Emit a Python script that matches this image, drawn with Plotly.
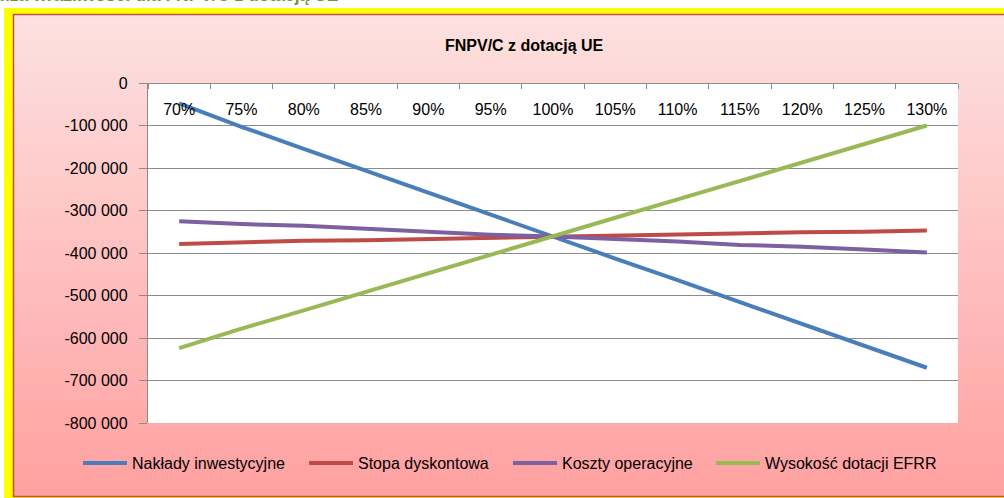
import plotly.graph_objects as go

# Sensitivity scenarios (share of the base value)
categories = ["70%", "75%", "80%", "85%", "90%", "95%", "100%",
              "105%", "110%", "115%", "120%", "125%", "130%"]

# FNPV/C (with EU grant) for each varied parameter
naklady_inwestycyjne = [-48000, -103000, -155000, -207000, -258000, -310000, -361000,
                        -413000, -464000, -516000, -567000, -619000, -670000]
stopa_dyskontowa = [-379000, -375000, -371000, -370000, -367000, -364000, -361000,
                    -359000, -357000, -354000, -351000, -350000, -347000]
koszty_operacyjne = [-325000, -332000, -336000, -343000, -351000, -357000, -361000,
                     -366000, -373000, -381000, -385000, -392000, -399000]
wysokosc_dotacji = [-624000, -578000, -535000, -491000, -448000, -404000, -361000,
                    -317000, -274000, -231000, -187000, -144000, -100000]

y_tick_values = [0, -100000, -200000, -300000, -400000, -500000, -600000, -700000, -800000]
y_tick_labels = ["0", "-100 000", "-200 000", "-300 000", "-400 000",
                 "-500 000", "-600 000", "-700 000", "-800 000"]

series_names = ["Nakłady inwestycyjne", "Stopa dyskontowa",
                "Koszty operacyjne", "Wysokość dotacji EFRR"]
series_values = [naklady_inwestycyjne, stopa_dyskontowa, koszty_operacyjne, wysokosc_dotacji]
series_colors = ["#4A7EBB", "#BE4B48", "#7D60A0", "#98B954"]

W, H = 1004, 498
PLOT_L, PLOT_R, PLOT_T, PLOT_B = 148, 958, 83, 423
FONT = "Liberation Sans, Arial, sans-serif"


def px_x(px):
    return (px - PLOT_L) / (PLOT_R - PLOT_L)


def px_y(py):
    return (PLOT_B - py) / (PLOT_B - PLOT_T)


fig = go.Figure()

legend_ids = ["legend", "legend2", "legend3", "legend4"]
legend_left = [78, 304, 508, 711]

for name, vals, color, lid in zip(series_names, series_values, series_colors, legend_ids):
    fig.add_trace(go.Scatter(
        x=categories, y=vals, name=name, mode="lines",
        line=dict(color=color, width=4),
        legend=lid,
    ))

# Frame: yellow outer border, pink gradient chart area, white plot area
shapes = [dict(type="rect", xref="paper", yref="paper", layer="below",
               x0=px_x(4), x1=px_x(1010), y0=px_y(8), y1=px_y(505),
               fillcolor="#FFFF00", line=dict(width=0))]

top_rgb = (253, 225, 225)
bot_rgb = (255, 160, 160)
y_start, y_end = 14, 497
n_strips = 60
for i in range(n_strips):
    t = (i + 0.5) / n_strips
    r = round(top_rgb[0] + (bot_rgb[0] - top_rgb[0]) * t)
    g = round(top_rgb[1] + (bot_rgb[1] - top_rgb[1]) * t)
    b = round(top_rgb[2] + (bot_rgb[2] - top_rgb[2]) * t)
    ya = y_start + (y_end - y_start) * i / n_strips
    yb = y_start + (y_end - y_start) * (i + 1) / n_strips + 0.6
    shapes.append(dict(type="rect", xref="paper", yref="paper", layer="below",
                       x0=px_x(13), x1=px_x(1010), y0=px_y(min(yb, y_end)), y1=px_y(ya),
                       fillcolor=f"rgb({r},{g},{b})", line=dict(width=0)))

shapes.append(dict(type="rect", xref="paper", yref="paper", layer="below",
                   x0=px_x(13.5), x1=px_x(1010), y0=px_y(496.5), y1=px_y(14.5),
                   fillcolor="rgba(0,0,0,0)", line=dict(color="#C0504D", width=1.5)))
shapes.append(dict(type="rect", xref="paper", yref="paper", layer="below",
                   x0=0, x1=1, y0=0, y1=1,
                   fillcolor="#FFFFFF", line=dict(width=0)))

annotations = [
    dict(text="<b>FNPV/C z dotacją UE</b>", xref="paper", yref="paper",
         x=px_x(524), y=px_y(46), xanchor="center", yanchor="middle",
         showarrow=False, font=dict(family=FONT, size=16, color="#000000")),
    dict(text="<b>Analiza wrażliwości dla FNPV/C z dotacją UE</b>", xref="paper", yref="paper",
         x=px_x(340), y=px_y(7), xanchor="right", yanchor="bottom",
         showarrow=False, font=dict(family=FONT, size=17.5, color="#76923C")),
]

layout_legends = {}
for lid, left in zip(legend_ids, legend_left):
    layout_legends[lid] = dict(
        x=px_x(left), y=px_y(463), xanchor="left", yanchor="middle",
        orientation="h", bgcolor="rgba(0,0,0,0)", borderwidth=0,
        font=dict(family=FONT, size=16, color="#000000"),
        itemwidth=44,
    )

fig.update_layout(
    width=W, height=H,
    margin=dict(l=PLOT_L, r=W - PLOT_R, t=PLOT_T, b=H - PLOT_B, pad=0),
    paper_bgcolor="#FFFFFF",
    plot_bgcolor="rgba(0,0,0,0)",
    font=dict(family=FONT, size=16, color="#000000"),
    showlegend=True,
    shapes=shapes,
    annotations=annotations,
    **layout_legends,
)

# Category axis crosses the value axis at 0, i.e. along the top edge,
# with its labels hanging below the line.
fig.update_xaxes(
    type="category", side="bottom", anchor="free", position=1,
    range=[-0.5, len(categories) - 0.5],
    showgrid=False, showline=True, linecolor="#8C8C8C", linewidth=1.3,
    ticks="outside", tickson="boundaries", ticklen=5, tickcolor="#8C8C8C", tickwidth=1.3,
    ticklabelstandoff=12,
    tickfont=dict(family=FONT, size=16, color="#000000"),
    fixedrange=True,
)
fig.update_yaxes(
    range=[-800000, 0], tickvals=y_tick_values, ticktext=y_tick_labels,
    showgrid=True, gridcolor="#8C8C8C", gridwidth=1.3,
    showline=True, linecolor="#8C8C8C", linewidth=1.3, zeroline=False,
    ticks="outside", ticklen=8, tickcolor="#8C8C8C", tickwidth=1.3,
    ticklabelstandoff=8,
    tickfont=dict(family=FONT, size=16, color="#000000"),
    fixedrange=True,
)

fig.write_html("out.html")
